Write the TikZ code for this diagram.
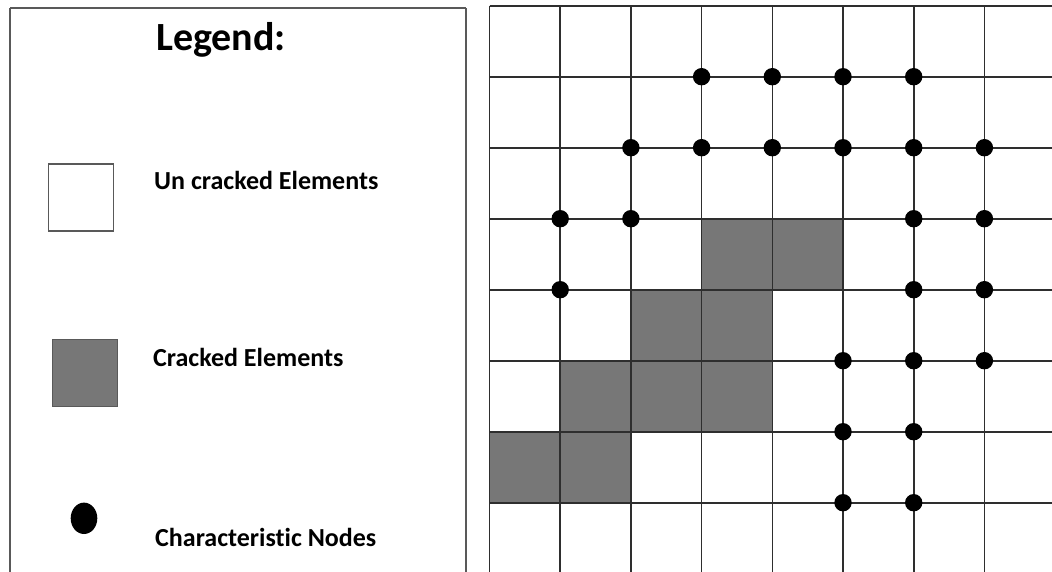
\documentclass[tikz,border=0pt]{standalone}
\usepackage{fontspec}
\setmainfont{Carlito}[Ligatures=NoCommon]
\usetikzlibrary{shapes.geometric}
\definecolor{crackgray}{HTML}{777777}
\definecolor{linegray}{HTML}{2E2E2E}
\definecolor{boxgray}{HTML}{595959}
\begin{document}
\begin{tikzpicture}[x=1pt,y=-1pt,
  gridline/.style={line width=1.6pt, draw=linegray},
  crackedcell/.style={fill=crackgray},
  charnode/.style={circle, fill=black, inner sep=0pt, minimum size=17.4pt},
  legendtext/.style={anchor=base west, inner sep=0pt, font=\bfseries\fontsize{26}{30}\selectfont},
  legendbox/.style={draw=boxgray, line width=1.3pt}]
\useasboundingbox (0,0) rectangle (1052,571);
\clip (0,0) rectangle (1052,571);
% legend frame
\draw[legendbox] (10,8) -- (10,580) (466,8) -- (466,580) (10,8) -- (466,8);
\node[anchor=base, inner sep=0pt, font=\bfseries\fontsize{40}{48}\selectfont] (title) at (221,50) {Legend:};
\node[draw=boxgray, line width=1.2pt, fill=white, minimum width=65pt, minimum height=67pt, inner sep=0pt] (uncrackedkey) at (80.8,197.5) {};
\node[legendtext] (uncrackedlabel) at (154,189) {Un cracked Elements};
\node[draw=boxgray, line width=1.2pt, fill=crackgray, minimum width=65pt, minimum height=67pt, inner sep=0pt] (crackedkey) at (84.6,373.3) {};
\node[legendtext] (crackedlabel) at (153,366.5) {Cracked Elements};
\node[ellipse, fill=black, inner sep=0pt, minimum width=26.6pt, minimum height=31.4pt] (nodekey) at (84,518.3) {};
\node[legendtext] (nodelabel) at (155,546.5) {Characteristic Nodes};
% cracked cells
\foreach \i/\j in {3/3,4/3,2/4,3/4,1/5,2/5,3/5,0/6,1/6}
  \fill[crackedcell] ({489.5+70.7*\i},{5.7+71*\j}) rectangle ({489.5+70.7*(\i+1)},{5.7+71*(\j+1)});
% grid
\foreach \i in {0,...,8}
  \draw[gridline] ({489.5+70.7*\i},5.7) -- ({489.5+70.7*\i},580);
\foreach \j in {0,...,8}
  \draw[gridline] (489.5,{5.7+71*\j}) -- (1060,{5.7+71*\j});
% characteristic nodes
\foreach \i/\j in {3/1,4/1,5/1,6/1,
                   2/2,3/2,4/2,5/2,6/2,7/2,
                   1/3,2/3,6/3,7/3,
                   1/4,6/4,7/4,
                   5/5,6/5,7/5,
                   5/6,6/6,
                   5/7,6/7}
  \node[charnode] (n\i-\j) at ({489.5+70.7*\i},{5.7+71*\j}) {};
\end{tikzpicture}
\end{document}
